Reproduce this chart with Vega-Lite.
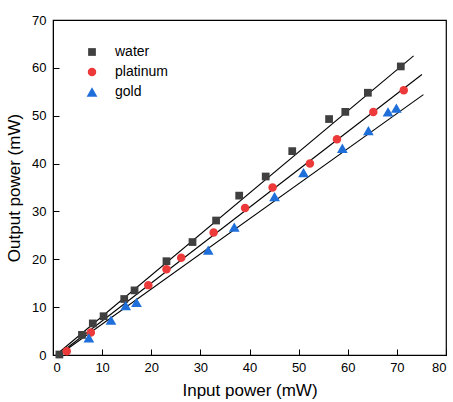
{
  "$schema": "https://vega.github.io/schema/vega-lite/v6.json",
  "autosize": {"type": "none"},
  "padding": {"left": 53, "top": 20, "right": 7, "bottom": 47},
  "width": 393,
  "height": 335,
  "config": {
    "font": "Liberation Sans",
    "view": {"stroke": "#000", "strokeWidth": 1.2},
    "axis": {
      "domainColor": "#000",
      "tickColor": "#000",
      "labelColor": "#000",
      "titleColor": "#000",
      "labelFont": "Liberation Sans",
      "titleFont": "Liberation Sans",
      "labelFontSize": 13,
      "titleFontSize": 17,
      "titleFontWeight": "normal",
      "grid": false
    }
  },
  "datasets": {
    "pts": [
      {"series": "water", "x": 1.3, "y": 0.1},
      {"series": "water", "x": 5.9, "y": 4.2},
      {"series": "water", "x": 8.1, "y": 6.6},
      {"series": "water", "x": 10.3, "y": 8.1},
      {"series": "water", "x": 14.5, "y": 11.7},
      {"series": "water", "x": 16.6, "y": 13.5},
      {"series": "water", "x": 23.1, "y": 19.6},
      {"series": "water", "x": 28.4, "y": 23.6},
      {"series": "water", "x": 33.2, "y": 28.1},
      {"series": "water", "x": 37.9, "y": 33.3},
      {"series": "water", "x": 43.3, "y": 37.3},
      {"series": "water", "x": 48.7, "y": 42.6},
      {"series": "water", "x": 56.2, "y": 49.3},
      {"series": "water", "x": 59.5, "y": 50.8},
      {"series": "water", "x": 64.1, "y": 54.8},
      {"series": "water", "x": 70.8, "y": 60.3},
      {"series": "platinum", "x": 2.8, "y": 0.8},
      {"series": "platinum", "x": 7.7, "y": 4.7},
      {"series": "platinum", "x": 19.4, "y": 14.6},
      {"series": "platinum", "x": 23.1, "y": 17.9},
      {"series": "platinum", "x": 26.1, "y": 20.3},
      {"series": "platinum", "x": 32.7, "y": 25.6},
      {"series": "platinum", "x": 39.1, "y": 30.7},
      {"series": "platinum", "x": 44.7, "y": 35.0},
      {"series": "platinum", "x": 52.3, "y": 40.0},
      {"series": "platinum", "x": 57.8, "y": 45.1},
      {"series": "platinum", "x": 65.2, "y": 50.8},
      {"series": "platinum", "x": 71.4, "y": 55.3},
      {"series": "gold", "x": 7.3, "y": 3.6},
      {"series": "gold", "x": 11.8, "y": 7.3},
      {"series": "gold", "x": 14.8, "y": 10.3},
      {"series": "gold", "x": 17.0, "y": 11.0},
      {"series": "gold", "x": 31.6, "y": 21.9},
      {"series": "gold", "x": 36.9, "y": 26.7},
      {"series": "gold", "x": 45.1, "y": 33.1},
      {"series": "gold", "x": 51.0, "y": 38.1},
      {"series": "gold", "x": 58.9, "y": 43.2},
      {"series": "gold", "x": 64.2, "y": 46.9},
      {"series": "gold", "x": 68.2, "y": 50.8},
      {"series": "gold", "x": 69.9, "y": 51.6}
    ],
    "fits": [
      {"series": "water", "x": 0.6, "y": 0},
      {"series": "water", "x": 73.4, "y": 62.5},
      {"series": "platinum", "x": 1.0, "y": 0},
      {"series": "platinum", "x": 75.1, "y": 58.6},
      {"series": "gold", "x": 1.2, "y": 0},
      {"series": "gold", "x": 75.4, "y": 54.4}
    ]
  },
  "layer": [
    {
      "data": {"name": "fits"},
      "mark": {"type": "line", "color": "#000", "strokeWidth": 1.1},
      "encoding": {
        "x": {"field": "x", "type": "quantitative"},
        "y": {"field": "y", "type": "quantitative"},
        "detail": {"field": "series"}
      }
    },
    {
      "data": {"name": "pts"},
      "mark": {"type": "point", "filled": true, "opacity": 1},
      "encoding": {
        "x": {
          "field": "x", "type": "quantitative",
          "scale": {"domain": [0, 80], "nice": false, "zero": false},
          "axis": {
            "title": "Input power (mW)",
            "values": [0, 5, 10, 15, 20, 25, 30, 35, 40, 45, 50, 55, 60, 65, 70, 75, 80],
            "labelExpr": "datum.value % 10 === 0 ? datum.label : ''",
            "tickSize": {"condition": {"test": "datum.value % 10 === 0", "value": -6}, "value": -3},
            "labelPadding": 12,
            "titlePadding": 8
          }
        },
        "y": {
          "field": "y", "type": "quantitative",
          "scale": {"domain": [0, 70], "nice": false, "zero": false},
          "axis": {
            "title": "Output power (mW)",
            "values": [0, 5, 10, 15, 20, 25, 30, 35, 40, 45, 50, 55, 60, 65, 70],
            "labelExpr": "datum.value % 10 === 0 ? datum.label : ''",
            "tickSize": {"condition": {"test": "datum.value % 10 === 0", "value": -6}, "value": -3},
            "labelPadding": 13,
            "titlePadding": 8
          }
        },
        "shape": {
          "field": "series", "type": "nominal",
          "scale": {"domain": ["water", "platinum", "gold"], "range": ["square", "circle", "triangle-up"]},
          "legend": null
        },
        "size": {
          "field": "series", "type": "nominal",
          "scale": {"type": "ordinal", "domain": ["water", "platinum", "gold"], "range": [60, 72, 115]},
          "legend": null
        },
        "color": {
          "field": "series", "type": "nominal",
          "scale": {"domain": ["water", "platinum", "gold"], "range": ["#404040", "#ec3a3a", "#1f6fdb"]},
          "legend": {
            "title": null,
            "orient": "none",
            "legendX": 32,
            "legendY": 25,
            "labelFontSize": 14,
            "labelFont": "Liberation Sans",
            "labelColor": "#000",
            "symbolSize": 90,
            "rowPadding": 6,
            "labelOffset": 16
          }
        }
      }
    }
  ]
}
